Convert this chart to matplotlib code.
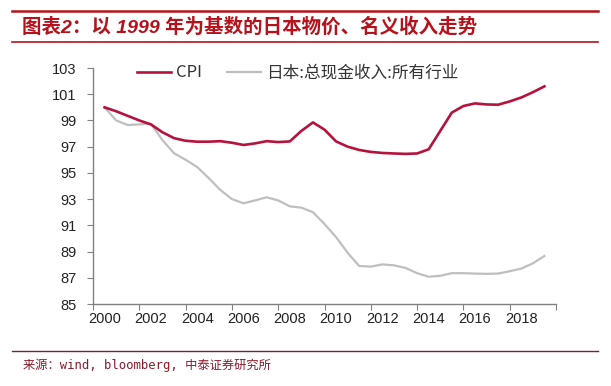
import numpy as np
import matplotlib
matplotlib.use('Agg')
import matplotlib.pyplot as plt
from matplotlib.lines import Line2D

# half-year sample points (index 1999 = 100)
years = [2000.0, 2000.5, 2001.0, 2001.5, 2002.0, 2002.5, 2003.0, 2003.5,
         2004.0, 2004.5, 2005.0, 2005.5, 2006.0, 2006.5, 2007.0, 2007.5,
         2008.0, 2008.5, 2009.0, 2009.5, 2010.0, 2010.5, 2011.0, 2011.5,
         2012.0, 2012.5, 2013.0, 2013.5, 2014.0, 2014.5, 2015.0, 2015.5,
         2016.0, 2016.5, 2017.0, 2017.5, 2018.0, 2018.5, 2019.0]
cpi = [100.0, 99.7, 99.35, 99.0, 98.7, 98.1, 97.65, 97.45,
       97.38, 97.38, 97.42, 97.3, 97.13, 97.25, 97.42, 97.35,
       97.4, 98.2, 98.85, 98.3, 97.4, 97.0, 96.75, 96.6,
       96.52, 96.48, 96.45, 96.48, 96.8, 98.2, 99.6, 100.1,
       100.3, 100.22, 100.2, 100.45, 100.75, 101.15, 101.6]
wage = [100.0, 99.0, 98.65, 98.7, 98.75, 97.5, 96.5, 96.0,
        95.45, 94.6, 93.7, 93.0, 92.68, 92.9, 93.14, 92.9,
        92.45, 92.35, 92.0, 91.1, 90.1, 88.9, 87.9, 87.85,
        88.02, 87.95, 87.75, 87.35, 87.08, 87.15, 87.35, 87.35,
        87.32, 87.3, 87.32, 87.5, 87.7, 88.1, 88.66]
year_labels = ['2000', '2002', '2004', '2006', '2008', '2010', '2012', '2014', '2016', '2018']
y_ticks = [85, 87, 89, 91, 93, 95, 97, 99, 101, 103]

red = '#B5123C'
gray = '#BFBFBF'
title_red = '#B5121B'
cjk = ['Noto Sans CJK SC', 'DejaVu Sans']

fig = plt.figure(figsize=(6.11, 3.86), dpi=100)
ax = fig.add_axes([93/611, 1-304/386, 463/611, 236/386])

ax.plot(years, wage, color=gray, lw=1.6, solid_joinstyle='round')
ax.plot(years, cpi, color=red, lw=1.9, solid_joinstyle='round')

ax.set_xlim(1999.5, 2019.5)
ax.set_ylim(85, 103)

# ticks sit between categories, labels on the categories
ax.set_xticks(np.arange(1999.5, 2020, 2))
ax.set_xticklabels([])
ax.set_xticks([int(s) for s in year_labels], minor=True)
ax.set_xticklabels(year_labels, minor=True, fontsize=10.5, family='Liberation Sans', color='#222222')
ax.tick_params(axis='x', which='major', direction='out', length=4, color='#808080')
ax.tick_params(axis='x', which='minor', length=0, pad=6)
ax.set_yticks(y_ticks)
ax.set_yticklabels([str(v) for v in y_ticks], fontsize=10.5, family='Liberation Sans', color='#222222')
ax.tick_params(axis='y', direction='out', length=4, color='#808080', pad=8)

for s in ['top', 'right']:
    ax.spines[s].set_visible(False)
for s in ['left', 'bottom']:
    ax.spines[s].set_color('#808080')
    ax.spines[s].set_linewidth(1.0)

handles = [Line2D([], [], color=red, lw=1.9), Line2D([], [], color=gray, lw=1.6)]
leg = ax.legend(handles, ['CPI', '日本:总现金收入:所有行业'], ncol=2, loc='center left',
                bbox_to_anchor=(0.095, 0.979), frameon=False, borderpad=0, borderaxespad=0,
                handlelength=2.05, handletextpad=0.3, columnspacing=1.5,
                prop={'family': cjk, 'size': 12})
for t in leg.get_texts():
    t.set_color('#333333')

# header: title between two red rules
fig.add_artist(Line2D([12/611, 598/611], [1-11/386, 1-11/386], color=title_red, lw=1.8))
fig.add_artist(Line2D([12/611, 598/611], [1-42/386, 1-42/386], color=title_red, lw=1.2))
fig.text(22/611, 1-27/386, '图表2：以 1999 年为基数的日本物价、名义收入走势',
         family=['Liberation Sans', 'Noto Sans CJK SC'], fontweight='bold', fontstyle='italic',
         fontsize=14, color=title_red, va='center', ha='left')

# footer
fig.add_artist(Line2D([12/611, 598/611], [1-351/386, 1-351/386], color='#7B1F2E', lw=1.0))
fig.text(23/611, 1-365/386, '来源：wind, bloomberg, 中泰证券研究所',
         family=['DejaVu Sans Mono', 'Noto Sans CJK SC'], fontsize=8.8,
         color='#8B1A2A', va='center', ha='left')

fig.savefig('out.png', dpi=100)
